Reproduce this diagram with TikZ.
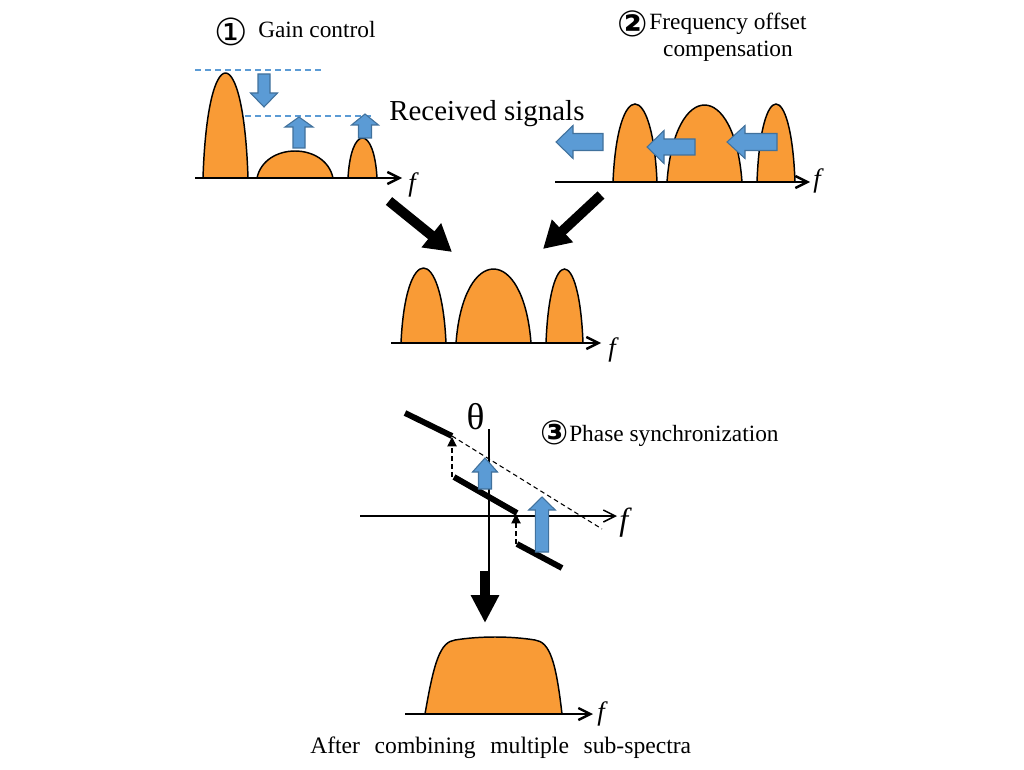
\documentclass[tikz,border=0pt]{standalone}
\usepackage{fontspec}
\setmainfont{Liberation Serif}
\newfontfamily\circfont{DejaVu Sans}
\usetikzlibrary{arrows.meta}
\definecolor{sigorange}{HTML}{F99B36}
\definecolor{arrblue}{HTML}{5B9BD5}
\definecolor{arrblueedge}{HTML}{41719C}
\newcommand\specpeak[4]{% x0, x1, top y, base y
  \filldraw[peakstyle] (#1,#4) .. controls ({#1+0.1*(#2-#1)},{#4-1.333*(#4-#3)}) and ({#2-0.1*(#2-#1)},{#4-1.333*(#4-#3)}) .. (#2,#4) -- cycle;}
\newcommand\bluevert[6]{% cx, tip, headbase, tail, headhalf, shafthalf
  \draw[bluearrow] ({#1-#6},#4) -- ({#1-#6},#3) -- ({#1-#5},#3) -- (#1,#2) -- ({#1+#5},#3) -- ({#1+#6},#3) -- ({#1+#6},#4) -- cycle;}
\newcommand\bluehoriz[6]{% cy, tip, headbase, tail, headhalf, shafthalf
  \draw[bluearrow] (#4,{#1-#6}) -- (#3,{#1-#6}) -- (#3,{#1-#5}) -- (#2,#1) -- (#3,{#1+#5}) -- (#3,{#1+#6}) -- (#4,{#1+#6}) -- cycle;}
\begin{document}
\begin{tikzpicture}[x=0.75pt,y=-0.75pt,
  peakstyle/.style={fill=sigorange, draw=black, line width=1.1pt},
  axisstyle/.style={line width=1.8pt, -{Straight Barb[length=9pt,width=9pt]}},
  thinaxis/.style={line width=1.1pt, -{Straight Barb[length=9pt,width=9pt]}},
  bluearrow/.style={fill=arrblue, draw=arrblueedge, line width=0.8pt},
  bluedash/.style={draw=arrblue, line width=0.8pt, dash pattern=on 4.5pt off 3pt},
  bigarrow/.style={line width=7.5pt, -{Triangle[length=20pt,width=22pt]}},
  phaseseg/.style={line width=4.4pt},
  blackdash/.style={line width=0.8pt, dash pattern=on 3.5pt off 2.5pt},
  dasharrow/.style={blackdash, -{Triangle[length=7pt,width=7pt]}},
  lbl/.style={inner sep=0pt, anchor=base west, font=\fontsize{17.5pt}{21pt}\selectfont},
  circlbl/.style={inner sep=0pt, anchor=center, font=\fontsize{28pt}{30pt}\circfont},
  flbl/.style={inner sep=0pt, anchor=base west, font=\fontsize{20pt}{24pt}\selectfont\itshape}]
\useasboundingbox (0,0) rectangle (1024,770);

% ---------- top left: gain control ----------
\specpeak{203}{248}{73}{178}
\specpeak{257}{333}{151}{178}
\specpeak{348}{377}{138}{178}
\draw[axisstyle] (195,178) -- (402,178);
\draw[bluedash] (195,70) -- (325,70);
\draw[bluedash] (245,116) -- (375,116);
\bluevert{264}{107}{93}{74}{13.5}{6}
\bluevert{299}{117}{127}{148}{14}{6}
\bluevert{365}{114}{125}{138}{13.5}{6.5}
\node[flbl] (f1) at (408,191) {f};
\node[circlbl] (c1) at (231.5,32) {①};
\node[lbl] (gain) at (258,38) {Gain control};
\node[lbl, font=\fontsize{21.7pt}{26pt}\selectfont] (recv) at (389,121) {Received signals};

% ---------- top right: frequency offset ----------
\specpeak{613}{657}{104}{182}
\specpeak{667}{742}{105}{182}
\specpeak{757}{795}{104}{182}
\draw[axisstyle] (555,182) -- (810,182);
\bluehoriz{142}{556}{573}{603}{16.5}{8.5}
\bluehoriz{147}{647}{664}{695}{16.5}{8}
\bluehoriz{142}{727}{745}{777}{16.5}{8.5}
\node[flbl] (f2) at (813,188) {f};
\node[circlbl, font=\fontsize{27pt}{30pt}\circfont\bfseries] (c2) at (632.5,24) {②};
\node[inner sep=0pt, anchor=base, align=center, font=\fontsize{17.5pt}{20.25pt}\selectfont] (freq) at (728,57) {Frequency offset\\compensation};

% ---------- big black arrows ----------
\coordinate (la1) at (389,201);
\coordinate (la2) at (452,252);
\coordinate (ra1) at (601,195);
\coordinate (ra2) at (543,249);
\draw[bigarrow] (la1) -- (la2);
\draw[bigarrow] (ra1) -- (ra2);

% ---------- middle spectrum ----------
\specpeak{401}{446}{268}{343}
\specpeak{456}{531}{269}{343}
\specpeak{546}{583}{269}{343}
\draw[axisstyle] (391,343) -- (601,343);
\node[flbl] (f3) at (608,356) {f};

% ---------- phase synchronization ----------
\draw[thinaxis] (360,516) -- (617,516);
\draw[line width=1pt] (489,429) -- (489,585);
\node[inner sep=0pt, anchor=base, font=\fontsize{28pt}{30pt}\selectfont] (theta) at (475.5,429) {θ};
\node[flbl, font=\fontsize{24pt}{26pt}\selectfont\itshape] (f4) at (619,530) {f};
\draw[blackdash] (452,436) -- (602,529);
\draw[dasharrow] (452,477) -- (452,437);
\draw[dasharrow] (516,544) -- (516,514);
\draw[phaseseg] (405,413) -- (452,436);
\draw[phaseseg] (454,477) -- (517,513);
\draw[phaseseg] (517,544) -- (562,568);
\bluevert{485}{458}{472}{489}{12.5}{6.5}
\bluevert{542}{497}{510}{552}{13.3}{6.7}
\node[circlbl, font=\fontsize{25pt}{27pt}\circfont\bfseries] (c3) at (555,433) {③};
\node[lbl] (phase) at (569,441) {Phase synchronization};

% ---------- down arrow ----------
\coordinate (da1) at (485,571);
\coordinate (da2) at (485,623);
\draw[line width=7.5pt, -{Triangle[length=21pt,width=20pt]}] (da1) -- (da2);

% ---------- combined spectrum ----------
\filldraw[peakstyle] (425,714) .. controls (434,662) and (440,642) .. (455,640)
  .. controls (480,636) and (510,636) .. (535,640)
  .. controls (550,642) and (556,662) .. (562,714) -- cycle;
\draw[axisstyle] (405,714) -- (593,714);
\node[flbl] (f5) at (597,720) {f};
\node[lbl, font=\fontsize{17.7pt}{21pt}\selectfont] (after) at (310,753) {\spaceskip=11pt\relax After combining multiple sub-spectra};
\end{tikzpicture}
\end{document}
